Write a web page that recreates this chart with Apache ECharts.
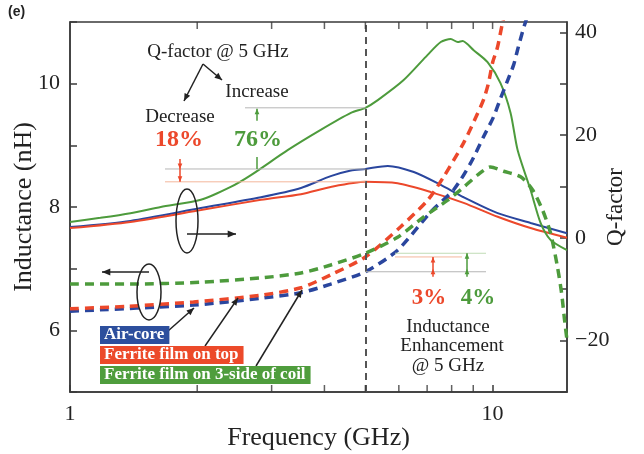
<!DOCTYPE html>
<html><head><meta charset="utf-8">
<script src="https://cdn.jsdelivr.net/npm/echarts@6/dist/echarts.min.js"></script>
<style>html,body{margin:0;padding:0;background:#fff}#c{width:644px;height:454px}</style>
</head><body><div id="c"></div>
<script>
// ---- data ----
const xLabels = [1, 10];
const xMinorTicks = [2, 3, 4, 5, 6, 7, 8, 9];
const leftLabels = [6, 8, 10];
const rightLabels = [-20, 0, 20, 40];
const seriesNames = ['Air-core', 'Ferrite film on top', 'Ferrite film on 3-side of coil'];

// Q-factor (solid, right axis)
const qAirFreq = [1, 1.39, 2.04, 2.83, 3.52, 4.14, 4.62, 5, 5.65, 6.51, 7.54, 8.54, 10.28, 12.3, 15];
const qAirVal  = [2.1, 3.3, 5.8, 7.9, 9.7, 12.0, 13.1, 13.4, 14.0, 12.8, 10.3, 7.9, 4.8, 2.9, 0.9];
const qTopFreq = [1, 1.39, 2.04, 2.83, 3.52, 4.14, 5, 5.96, 7.14, 8.54, 10.28, 12.3, 15];
const qTopVal  = [1.9, 3.1, 5.4, 7.4, 8.5, 9.9, 10.9, 10.6, 8.9, 6.8, 4.1, 1.9, 0.0];
const q3sFreq = [1, 1.18, 1.39, 1.64, 2.04, 2.4, 2.68, 3.28, 3.92, 4.62, 5, 5.35, 6.16, 7.02, 7.54, 7.96, 8.27, 8.49, 9.02, 9.73, 10.44, 11.03, 11.46, 12.3, 12.99, 13.71, 15];
const q3sVal  = [3.1, 3.9, 4.8, 6.0, 7.4, 9.9, 12.2, 17.1, 21.0, 24.3, 25.3, 26.8, 30.7, 35.6, 38.1, 38.7, 38.1, 38.3, 36.5, 34.2, 30.1, 24.3, 17.1, 9.3, 2.9, -0.4, -2.4];

// Inductance (dashed, left axis)
const lAirFreq = [1, 1.96, 2.83, 3.52, 4.14, 5, 5.96, 7.14, 8.09, 8.87, 9.52, 10.05, 10.44, 10.85, 11.21, 11.46, 11.78, 12.03, 12.5];
const lAirVal  = [6.31, 6.41, 6.52, 6.61, 6.75, 6.95, 7.30, 7.92, 8.28, 8.71, 9.14, 9.46, 9.76, 10.05, 10.3, 10.55, 10.85, 11.05, 11.4];
const lTopFreq = [1, 1.37, 1.96, 2.83, 3.52, 4.14, 5, 6.06, 7.02, 7.66, 8.54, 9.22, 9.52, 9.78, 10.0, 10.27, 10.55, 10.9];
const lTopVal  = [6.35, 6.39, 6.46, 6.57, 6.69, 6.90, 7.19, 7.68, 8.11, 8.49, 9.04, 9.52, 9.74, 10.01, 10.34, 10.59, 10.98, 11.4];
const l3sFreq = [1, 1.39, 2.04, 2.83, 3.52, 4.14, 5, 5.96, 6.87, 7.83, 8.54, 9.22, 9.89, 10.62, 11.65, 12.43, 13.13, 13.71, 14.24, 14.56, 14.8, 15];
const l3sVal  = [6.75, 6.75, 6.78, 6.85, 6.93, 7.06, 7.25, 7.51, 7.84, 8.11, 8.32, 8.52, 8.65, 8.58, 8.49, 8.28, 7.95, 7.58, 7.03, 6.61, 6.17, 5.84];

const pct = { qDec: '18%', qInc: '76%', lTop: '3%', l3s: '4%' };

// ---- styles ----
const C = { blue: '#2a469e', red: '#ec482b', green: '#4d9b3c' };
const BOX = { blue: '#2d4f9d', red: '#ec4a2a', green: '#4f9d3d' };
const SERIF = "'Liberation Serif','DejaVu Serif','Times New Roman',serif";
const zip = (a, b) => a.map((v, i) => [v, b[i]]);

const chart = echarts.init(document.getElementById('c'), null, { renderer: 'canvas' });

function solid(name, f, v, color) {
  return { name, type: 'line', xAxisIndex: 0, yAxisIndex: 1, data: zip(f, v), smooth: 0.25,
    symbol: 'none', lineStyle: { color, width: 2 }, z: 3 };
}
function dashed(name, f, v, color) {
  return { name, type: 'line', xAxisIndex: 0, yAxisIndex: 0, data: zip(f, v), smooth: 0.25,
    symbol: 'none', clip: true, lineStyle: { color, width: 3.5, type: [9, 6] }, z: 4 };
}

const axisLineStyle = { color: '#3a3a3a', width: 1.5 };
const tickLabel = { fontFamily: SERIF, fontSize: 22, color: '#222' };

const option = {
  animation: false,
  backgroundColor: '#fff',
  grid: { left: 70, right: 77, top: 22, bottom: 62, containLabel: false, outerBoundsMode: 'none',
    show: true, borderColor: '#3a3a3a', borderWidth: 1.5, backgroundColor: 'transparent' },
  xAxis: [{
    type: 'log', logBase: 10, min: 1, max: 15,
    axisLine: { show: true, onZero: false, lineStyle: axisLineStyle },
    axisTick: { show: true, inside: true, length: 7, lineStyle: axisLineStyle },
    axisLabel: { ...tickLabel, margin: 11, showMaxLabel: false,
      formatter: v => xLabels.some(t => Math.abs(t - v) < 1e-6) ? String(Math.round(v)) : '' },
    splitLine: { show: false }, minorTick: { show: false },
    name: 'Frequency (GHz)', nameLocation: 'middle', nameGap: 33, nameMoveOverlap: false,
    nameTextStyle: { fontFamily: SERIF, fontSize: 26, color: '#222' }
  }],
  yAxis: [{
    type: 'value', min: 5, max: 11, interval: 1, position: 'left',
    axisLine: { show: true, onZero: false, lineStyle: axisLineStyle },
    axisTick: { show: true, inside: true, length: 7, lineStyle: axisLineStyle },
    axisLabel: { ...tickLabel, margin: 10, formatter: v => leftLabels.includes(v) ? String(v) : '' },
    splitLine: { show: false },
    name: 'Inductance (nH)', nameLocation: 'middle', nameGap: 33, nameRotate: 90, nameMoveOverlap: false,
    nameTextStyle: { fontFamily: SERIF, fontSize: 26, color: '#222' }
  }, {
    type: 'value', min: -30, max: 42, interval: 10, position: 'right',
    axisLine: { show: true, onZero: false, lineStyle: axisLineStyle },
    axisTick: { show: true, inside: true, length: 7, lineStyle: axisLineStyle },
    axisLabel: { ...tickLabel, margin: 8, showMaxLabel: false,
      formatter: v => rightLabels.includes(v) ? (v < 0 ? '\u2212' + (-v) : String(v)) : '' },
    splitLine: { show: false },
    name: 'Q-factor', nameLocation: 'middle', nameGap: 37, nameRotate: 90, nameMoveOverlap: false,
    nameTextStyle: { fontFamily: SERIF, fontSize: 23, color: '#222' }
  }],
  series: [
    Object.assign(solid(seriesNames[0], qAirFreq, qAirVal, C.blue), {
      markLine: { silent: true, symbol: ['none', 'none'], label: { show: false },
        lineStyle: { color: '#555', width: 2, type: [7, 5] }, data: [{ xAxis: 5 }] }
    }),
    solid(seriesNames[1], qTopFreq, qTopVal, C.red),
    solid(seriesNames[2], q3sFreq, q3sVal, C.green),
    dashed(seriesNames[0], lAirFreq, lAirVal, C.blue),
    dashed(seriesNames[1], lTopFreq, lTopVal, C.red),
    dashed(seriesNames[2], l3sFreq, l3sVal, C.green),
    { type: 'scatter', xAxisIndex: 0, yAxisIndex: 0, silent: true, clip: false, z: 6,
      symbol: 'rect', symbolSize: [1.5, 7], symbolOffset: [0, -3.5], itemStyle: { color: '#3a3a3a' },
      data: xMinorTicks.map(f => [f, 5]) },
    { type: 'scatter', xAxisIndex: 0, yAxisIndex: 0, silent: true, clip: false, z: 6,
      symbol: 'rect', symbolSize: [1.5, 7], symbolOffset: [0, 3.5], itemStyle: { color: '#3a3a3a' },
      data: xMinorTicks.concat([10]).map(f => [f, 11]) }
  ]
};
chart.setOption(option);

// ---- annotations (positioned through the axes) ----
const X = f => chart.convertToPixel({ xAxisIndex: 0 }, f);
const YL = v => chart.convertToPixel({ yAxisIndex: 0 }, v);
const YQ = v => chart.convertToPixel({ yAxisIndex: 1 }, v);
const at5 = (f, v) => v[f.indexOf(5)];

const els = [];
function line(x1, y1, x2, y2, color, w) {
  els.push({ type: 'line', silent: true, z: 50, shape: { x1, y1, x2, y2 }, style: { stroke: color, lineWidth: w || 1.5 } });
}
function head(x, y, ang, color, s) {
  s = s || 7;
  const a1 = ang + Math.PI - 0.4, a2 = ang + Math.PI + 0.4;
  els.push({ type: 'polygon', silent: true, z: 51, shape: { points: [[x, y],
    [x + s * Math.cos(a1), y + s * Math.sin(a1)], [x + s * Math.cos(a2), y + s * Math.sin(a2)]] },
    style: { fill: color } });
}
function arrow(x1, y1, x2, y2, color, w, s) {
  line(x1, y1, x2, y2, color, w);
  head(x2, y2, Math.atan2(y2 - y1, x2 - x1), color, s);
}
function text(t, x, y, size, color, bold, align) {
  els.push({ type: 'text', silent: true, z: 60, x, y, style: { text: t,
    font: (bold ? 'bold ' : '') + size + 'px ' + SERIF, fill: color,
    align: align || 'center', verticalAlign: 'middle', textAlign: align || 'center', textVerticalAlign: 'middle' } });
}
function box(t, x, y, bg) {
  els.push({ type: 'text', silent: true, z: 60, x, y, style: { text: t,
    font: 'bold 17px ' + SERIF, fill: '#fff', backgroundColor: bg, padding: [1, 5, 0, 4],
    align: 'left', verticalAlign: 'middle', textAlign: 'left', textVerticalAlign: 'middle' } });
}

const x5 = X(5);
const yQb = YQ(at5(qAirFreq, qAirVal)), yQr = YQ(at5(qTopFreq, qTopVal)), yQg = YQ(at5(q3sFreq, q3sVal));
const yLb = YL(at5(lAirFreq, lAirVal)), yLr = YL(at5(lTopFreq, lTopVal)), yLg = YL(at5(l3sFreq, l3sVal));

// Q-factor reference levels at 5 GHz
line(245, yQg, x5, yQg, '#b5b5b5', 1);
line(165, yQb, x5, yQb, '#b5b5b5', 1);
line(165, yQr, x5, yQr, '#f3b79b', 1);
// Q arrows
line(180, yQb - 10, 180, yQr, C.red, 1.5);
head(180, yQb, Math.PI / 2, C.red, 6);
head(180, yQr, Math.PI / 2, C.red, 6);
line(257, yQb, 257, yQb - 12, C.green, 1.5);
arrow(257, yQg + 13, 257, yQg + 1, C.green, 1.5, 6);

text('Q-factor @ 5 GHz', 218, 52, 19, '#222');
arrow(203, 64, 184, 101, '#222', 1.5, 8);
arrow(203, 64, 222, 80, '#222', 1.5, 8);
text('Increase', 257, 92, 19, '#222');
text('Decrease', 180, 117, 19, '#222');
text(pct.qDec, 179, 140, 24, C.red, true);
text(pct.qInc, 258, 140, 24, C.green, true);

// Inductance reference levels at 5 GHz
line(x5, yLb, 486, yLb, '#b5b5b5', 1);
line(395, yLr, 462, yLr, '#f3b79b', 1);
line(395, yLg, 486, yLg, '#c0dcb5', 1);
line(433, yLb + 5, 433, yLr, C.red, 1.5);
head(433, yLr, -Math.PI / 2, C.red, 6);
head(433, yLb - 3, -Math.PI / 2, C.red, 6);
line(467, yLb + 5, 467, yLg, C.green, 1.5);
head(467, yLg, -Math.PI / 2, C.green, 6);
head(467, yLb - 3, -Math.PI / 2, C.green, 6);
text(pct.lTop, 429, 298, 23, C.red, true);
text(pct.l3s, 478, 298, 23, C.green, true);
text('Inductance', 448, 327, 19, '#222');
text('Enhancement', 452, 346, 19, '#222');
text('@ 5 GHz', 448, 366, 19, '#222');

// ellipses + axis pointers
els.push({ type: 'ellipse', silent: true, z: 50, shape: { cx: 187, cy: 221, rx: 11, ry: 32 }, style: { fill: 'none', stroke: '#222', lineWidth: 1.5 } });
arrow(187, 234, 236, 234, '#222', 1.5, 9);
els.push({ type: 'ellipse', silent: true, z: 50, shape: { cx: 149, cy: 292, rx: 12, ry: 28 }, style: { fill: 'none', stroke: '#222', lineWidth: 1.5 } });
arrow(149, 272, 102, 272, '#222', 1.5, 9);

// legend boxes
box(seriesNames[0], 100, 335, BOX.blue);
box(seriesNames[1], 100, 355, BOX.red);
box(seriesNames[2], 100, 375, BOX.green);
arrow(168, 331, 194, 308, '#222', 1.5, 8);
arrow(205, 346, 238, 298, '#222', 1.5, 8);
arrow(256, 366, 302, 290, '#222', 1.5, 8);

// panel tag
els.push({ type: 'text', silent: true, z: 60, x: 8, y: 12, style: { text: '(e)', font: 'bold 14px Liberation Sans, Arial, sans-serif',
  fill: '#222', align: 'left', verticalAlign: 'middle', textAlign: 'left', textVerticalAlign: 'middle' } });

chart.setOption({ graphic: { elements: els } });
</script>
</body></html>
